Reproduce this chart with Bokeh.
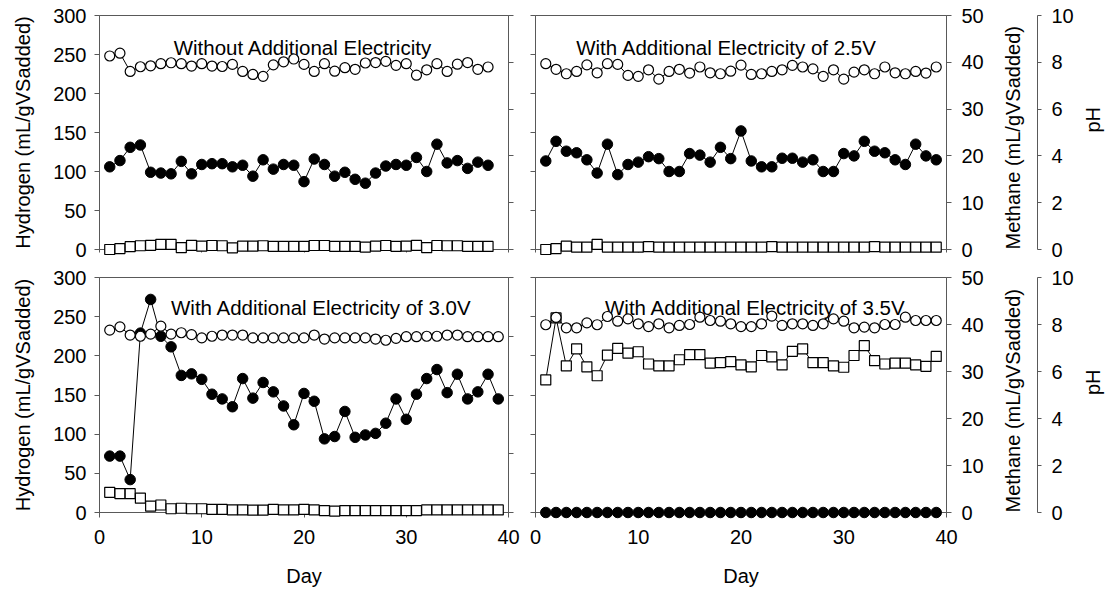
import math
from bokeh.plotting import figure
from bokeh.models import ColumnDataSource, Range1d, LinearAxis, FixedTicker, Label
from bokeh.layouts import column, row
from bokeh.embed import file_html
from bokeh.resources import INLINE

# ---------------- data ----------------
titles = ["Without Additional Electricity",
          "With Additional Electricity of 2.5V",
          "With Additional Electricity of 3.0V",
          "With Additional Electricity of 3.5V"]

hyd_ticks = [0, 50, 100, 150, 200, 250, 300]
meth_ticks = [0, 10, 20, 30, 40, 50]
meth_ticks_b = [0, 12.5, 25, 37.5, 50]
ph_ticks = [0, 2, 4, 6, 8, 10]
day_ticks = [0, 10, 20, 30, 40]

# panel 1: without additional electricity (days 1-38)
day_0v = list(range(1, 39))
hyd_0v = [106, 114, 131, 134, 99, 98, 97, 113, 97, 109,
          110, 110, 106, 108, 94, 115, 103, 109, 108, 87,
          116, 109, 94, 99, 90, 85, 98, 107, 109, 108,
          118, 100, 135, 111, 114, 104, 112, 108]
meth_0v = [0.0, 0.2, 0.6, 0.8, 0.9, 1.1, 1.1, 0.4, 0.9, 0.7,
           0.85, 0.8, 0.35, 0.7, 0.7, 0.8, 0.65, 0.65, 0.65, 0.65,
           0.85, 0.85, 0.65, 0.65, 0.65, 0.5, 0.7, 0.85, 0.65, 0.7,
           0.9, 0.4, 0.85, 0.8, 0.8, 0.65, 0.65, 0.65]
ph_0v = [8.27, 8.39, 7.61, 7.81, 7.85, 7.94, 7.98, 7.94, 7.84, 7.94,
         7.84, 7.82, 7.91, 7.61, 7.48, 7.40, 7.89, 8.02, 8.14, 7.91,
         7.61, 7.94, 7.62, 7.77, 7.70, 7.97, 7.99, 8.04, 7.87, 7.94,
         7.45, 7.68, 7.94, 7.61, 7.92, 7.99, 7.70, 7.80]

# panel 2: 2.5 V (days 1-39)
day_25v = list(range(1, 40))
hyd_25v = [113.5, 138.7, 126, 124, 115, 98, 135, 96, 109, 112,
           119, 116.5, 100, 100, 123, 121, 112, 131, 116.5, 152,
           113.5, 106, 106, 117, 117, 112, 115, 100, 100, 123,
           120, 138.7, 126, 124, 115, 109, 135, 120, 115]
meth_25v = [0.0, 0.2, 0.7, 0.5, 0.5, 1.1, 0.5, 0.5, 0.5, 0.5,
            0.6, 0.5, 0.5, 0.5, 0.5, 0.5, 0.5, 0.5, 0.5, 0.5,
            0.5, 0.5, 0.6, 0.5, 0.5, 0.5, 0.5, 0.5, 0.5, 0.5,
            0.5, 0.5, 0.6, 0.5, 0.5, 0.5, 0.5, 0.5, 0.5]
ph_25v = [7.94, 7.70, 7.51, 7.61, 7.89, 7.55, 7.94, 7.91, 7.44, 7.40,
          7.68, 7.28, 7.61, 7.70, 7.54, 7.80, 7.55, 7.51, 7.62, 7.88,
          7.48, 7.51, 7.61, 7.68, 7.87, 7.80, 7.72, 7.40, 7.68, 7.28,
          7.58, 7.68, 7.51, 7.80, 7.55, 7.51, 7.61, 7.54, 7.80]

# panel 3: 3.0 V (days 1-39)
day_30v = list(range(1, 40))
hyd_30v = [72, 72, 42, 229, 272, 225, 211.5, 175, 177, 170,
           151, 145, 135, 171, 146, 166, 154, 136, 112, 152,
           142, 94, 97, 129, 96, 99, 101, 114, 145, 119,
           151, 171, 182.5, 153, 176.5, 145, 154, 176.5, 145]
meth_30v = [4.3, 4.0, 4.0, 3.05, 1.35, 1.6, 0.8, 0.9, 0.8, 0.8,
            0.65, 0.65, 0.55, 0.55, 0.5, 0.5, 0.65, 0.55, 0.55, 0.65,
            0.55, 0.4, 0.3, 0.4, 0.4, 0.4, 0.4, 0.4, 0.4, 0.4,
            0.4, 0.55, 0.55, 0.55, 0.55, 0.55, 0.55, 0.55, 0.55]
ph_30v = [7.76, 7.90, 7.55, 7.50, 7.59, 7.93, 7.59, 7.65, 7.57, 7.43,
          7.50, 7.55, 7.55, 7.55, 7.43, 7.43, 7.43, 7.43, 7.43, 7.43,
          7.55, 7.38, 7.43, 7.43, 7.43, 7.43, 7.38, 7.33, 7.41, 7.48,
          7.48, 7.50, 7.50, 7.55, 7.55, 7.48, 7.48, 7.48, 7.48]

# panel 4: 3.5 V (days 1-39)
day_35v = list(range(1, 40))
hyd_35v = [0, 0, 0, 0, 0, 0, 0, 0, 0, 0,
           0, 0, 0, 0, 0, 0, 0, 0, 0, 0,
           0, 0, 0, 0, 0, 0, 0, 0, 0, 0,
           0, 0, 0, 0, 0, 0, 0, 0, 0]
meth_35v = [28.2, 41.4, 31.2, 34.8, 31.0, 29.1, 33.5, 34.9, 33.9, 34.2,
            31.6, 31.2, 31.2, 32.5, 33.6, 33.6, 31.8, 31.9, 32.1, 31.4,
            31.0, 33.4, 33.1, 31.4, 34.3, 34.8, 31.9, 31.9, 31.2, 30.9,
            33.4, 35.5, 32.3, 31.6, 31.8, 31.8, 31.4, 31.1, 33.2]
ph_35v = [7.99, 8.30, 7.86, 7.86, 8.07, 7.99, 8.34, 8.14, 8.24, 8.03,
          7.91, 8.03, 7.86, 7.96, 8.00, 8.31, 8.17, 8.14, 8.03, 7.91,
          7.91, 8.03, 8.36, 7.96, 8.03, 8.03, 7.96, 8.03, 8.24, 8.14,
          7.86, 7.89, 7.86, 8.00, 8.00, 8.31, 8.17, 8.17, 8.17]

# ---------------- styling ----------------
FONT = "Liberation Sans"
AX = "#595959"
FS = "20px"


def style_axis(ax, show_labels, tick_out=5):
    ax.axis_line_color = AX
    ax.major_tick_line_color = AX
    ax.minor_tick_line_color = None
    ax.major_tick_in = 0
    ax.major_tick_out = tick_out
    ax.major_label_text_font = FONT
    ax.axis_label_text_font = FONT
    ax.axis_label_text_font_style = "normal"
    ax.axis_label_text_color = "black"
    ax.axis_label_text_font_size = FS
    if show_labels:
        ax.major_label_text_color = "black"
        ax.major_label_text_font_size = FS
        ax.major_label_standoff = 8
    else:
        ax.major_label_text_color = None
        ax.major_label_text_font_size = "0px"
        ax.major_label_standoff = 0


def panel(day, hyd, meth, ph, title, tx, ty, is_left, is_bottom):
    fh = 235 if is_bottom else 234
    fw = 409 if is_left else 411
    p = figure(frame_width=fw, frame_height=fh,
               x_range=Range1d(0, 40), y_range=Range1d(0, 300),
               x_axis_location=None, y_axis_location=None,
               output_backend="svg", toolbar_location=None,
               min_border_left=99 if is_left else 14,
               min_border_right=13 if is_left else 162,
               min_border_top=14 if is_bottom else 15,
               min_border_bottom=79 if is_bottom else 14)
    p.xgrid.visible = False
    p.ygrid.visible = False
    p.outline_line_color = AX
    p.outline_line_width = 1
    p.extra_y_ranges = {"meth": Range1d(0, 50), "ph": Range1d(0, 10)}

    # bottom axis
    xa = LinearAxis(ticker=FixedTicker(ticks=day_ticks, minor_ticks=[]))
    style_axis(xa, is_bottom, tick_out=5 if is_bottom else 3)
    if is_bottom:
        xa.major_label_standoff = 12
        xa.axis_label = "Day"
        xa.axis_label_standoff = 18
    p.add_layout(xa, "below")

    # left (hydrogen) axis
    ya = LinearAxis(ticker=FixedTicker(ticks=hyd_ticks, minor_ticks=[]))
    style_axis(ya, is_left)
    if is_left:
        ya.axis_label = "Hydrogen (mL/gVSadded)"
        ya.axis_label_standoff = 16
    p.add_layout(ya, "left")

    if is_left:
        rt = meth_ticks_b if is_bottom else meth_ticks
        ra = LinearAxis(y_range_name="meth", ticker=FixedTicker(ticks=rt, minor_ticks=[]))
        style_axis(ra, False)
        p.add_layout(ra, "right")
    else:
        ma = LinearAxis(y_range_name="meth", ticker=FixedTicker(ticks=meth_ticks, minor_ticks=[]))
        style_axis(ma, True)
        ma.major_label_standoff = 10
        ma.axis_label = "Methane (mL/gVSadded)"
        ma.axis_label_standoff = 26
        ma.axis_label_orientation = math.pi / 2
        ma.axis_label_align = "start"
        p.add_layout(ma, "right")
        pa = LinearAxis(y_range_name="ph", ticker=FixedTicker(ticks=ph_ticks, minor_ticks=[]))
        style_axis(pa, True, tick_out=4)
        pa.major_label_standoff = 10
        pa.axis_label = "pH"
        pa.axis_label_standoff = 16
        pa.axis_label_orientation = math.pi / 2
        p.add_layout(pa, "right")

    src = ColumnDataSource(dict(day=day, hyd=hyd, meth=meth, ph=ph))
    # hydrogen: filled circles
    p.line("day", "hyd", source=src, line_color="black", line_width=1, level="overlay")
    p.scatter("day", "hyd", source=src, marker="circle", size=10.5,
              fill_color="black", line_color="black", line_width=1, level="overlay")
    # methane: open squares
    p.line("day", "meth", source=src, y_range_name="meth", line_color="black",
           line_width=1, level="overlay")
    p.scatter("day", "meth", source=src, y_range_name="meth", marker="square", size=10,
              fill_color="white", line_color="black", line_width=1.2, level="overlay")
    # pH: open circles
    p.line("day", "ph", source=src, y_range_name="ph", line_color="black",
           line_width=1, level="overlay")
    p.scatter("day", "ph", source=src, y_range_name="ph", marker="circle", size=10,
              fill_color="white", line_color="black", line_width=1.2, level="overlay")

    p.add_layout(Label(x=tx, y=ty, text=title, text_align="center",
                       text_baseline="middle", text_font=FONT,
                       text_font_size="20.5px", text_color="black"))
    return p


p1 = panel(day_0v, hyd_0v, meth_0v, ph_0v, titles[0], 19.9, 259, True, False)
p2 = panel(day_25v, hyd_25v, meth_25v, ph_25v, titles[1], 18.6, 259, False, False)
p3 = panel(day_30v, hyd_30v, meth_30v, ph_30v, titles[2], 21.7, 262, True, True)
p4 = panel(day_35v, hyd_35v, meth_35v, ph_35v, titles[3], 21.4, 262, False, True)

layout = column(row(p1, p2), row(p3, p4))

with open("out.html", "w") as f:
    f.write(file_html(layout, INLINE))
